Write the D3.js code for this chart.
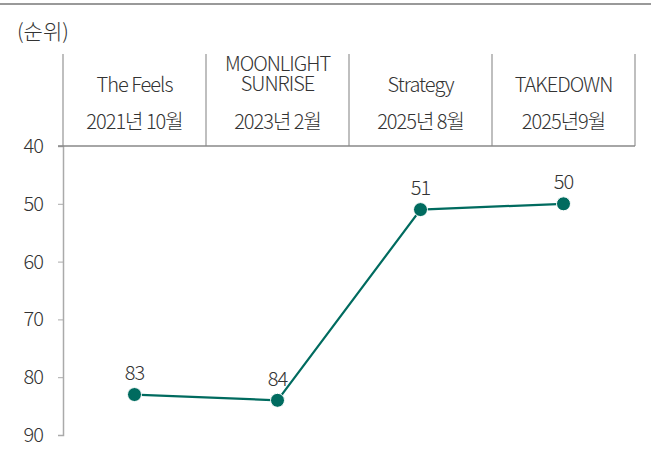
<!DOCTYPE html>
<html>
<head>
<meta charset="utf-8">
<script src="https://cdn.jsdelivr.net/npm/d3@7"></script>
<style>
  body { margin: 0; background: #fff; }
  svg text { font-family: "Noto Sans CJK KR", "Noto Sans", sans-serif; fill: #333; }
</style>
</head>
<body>
<svg id="chart"></svg>
<script>
const songs = [['The Feels'], ['MOONLIGHT', 'SUNRISE'], ['Strategy'], ['TAKEDOWN']];
const releaseDates = ['2021년 10월', '2023년 2월', '2025년 8월', '2025년9월'];
const ranks = [83, 84, 51, 50];
const yTicks = [40, 50, 60, 70, 80, 90];

const width = 651;
const height = 457;
const margin = { left: 63, right: 16, top: 146, bottom: 22 };
const innerWidth = width - margin.left - margin.right;
const innerHeight = height - margin.top - margin.bottom;
const headerTop = 54;
const lineColor = '#006b5f';
const FONT_SIZE = 20;

const svg = d3.select('#chart')
    .attr('width', width)
    .attr('height', height);

// top rule
svg.append('line')
    .attr('x1', 0).attr('x2', width)
    .attr('y1', 4).attr('y2', 4)
    .attr('stroke', '#999').attr('stroke-width', 2);

svg.append('text')
    .attr('x', 17).attr('y', 39)
    .attr('font-size', 21)
    .attr('font-weight', 300)
    .attr('letter-spacing', 0)
    .text('(순위)');

const g = svg.append('g')
    .attr('transform', `translate(${ margin.left },${ margin.top })`);

const x = d3.scaleBand()
    .domain(d3.range(ranks.length))
    .range([0, innerWidth]);

const y = d3.scaleLinear()
    .domain([40, 90])
    .range([0, innerHeight]);

// y axis
const yAxis = g.append('g')
    .call(d3.axisLeft(y).tickValues(yTicks).tickSize(5).tickPadding(15));
yAxis.select('.domain').attr('stroke', '#aaa').attr('stroke-width', 1.5);
yAxis.selectAll('.tick line').attr('stroke', '#aaa');
yAxis.selectAll('.tick text')
    .attr('font-size', FONT_SIZE)
    .attr('font-weight', 300)
    .attr('fill', '#333')
    .attr('letter-spacing', -1)
    .attr('font-family', '"Noto Sans CJK KR", "Noto Sans", sans-serif');

// header table
const header = g.append('g').attr('transform', `translate(0,${ headerTop - margin.top })`);
const headerH = margin.top - headerTop;

header.selectAll('line.sep')
    .data(d3.range(ranks.length + 1))
    .join('line')
    .attr('class', 'sep')
    .attr('x1', (d) => (d < ranks.length ? x(d) : innerWidth))
    .attr('x2', (d) => (d < ranks.length ? x(d) : innerWidth))
    .attr('y1', 0).attr('y2', headerH)
    .attr('stroke', '#aaa').attr('stroke-width', 1.5);

g.append('line')
    .attr('x1', -5).attr('x2', innerWidth)
    .attr('y1', 0).attr('y2', 0)
    .attr('stroke', '#888').attr('stroke-width', 1.5);

const cells = header.selectAll('g.cell')
    .data(songs)
    .join('g')
    .attr('class', 'cell')
    .attr('transform', (d, i) => `translate(${ x(i) + x.bandwidth() / 2 },0)`);

cells.each(function (lines)
{
    const cell = d3.select(this);
    const startY = lines.length > 1 ? 17.4 : 38.4;
    lines.forEach((t, k) =>
    {
        cell.append('text')
            .attr('x', 0)
            .attr('y', startY + k * 20)
            .attr('text-anchor', 'middle')
            .attr('font-size', FONT_SIZE)
            .attr('font-weight', 300)
            .attr('letter-spacing', -1)
            .text(t);
    });
});

cells.append('text')
    .attr('x', 0)
    .attr('y', 75.4)
    .attr('text-anchor', 'middle')
    .attr('font-size', FONT_SIZE)
    .attr('font-weight', 300)
    .attr('letter-spacing', -1)
    .text((d, i) => releaseDates[i]);

// series
const cx = (i) => x(i) + x.bandwidth() / 2;

g.append('path')
    .datum(ranks)
    .attr('fill', 'none')
    .attr('stroke', lineColor)
    .attr('stroke-width', 2.2)
    .attr('d', d3.line().x((d, i) => cx(i)).y((d) => y(d)));

g.selectAll('circle.pt')
    .data(ranks)
    .join('circle')
    .attr('class', 'pt')
    .attr('cx', (d, i) => cx(i))
    .attr('cy', (d) => y(d))
    .attr('r', 7)
    .attr('fill', lineColor)
    .attr('stroke', '#fff')
    .attr('stroke-width', 1);

g.selectAll('text.lbl')
    .data(ranks)
    .join('text')
    .attr('class', 'lbl')
    .attr('x', (d, i) => cx(i))
    .attr('y', (d) => y(d) - 14.6)
    .attr('text-anchor', 'middle')
    .attr('font-size', FONT_SIZE)
    .attr('font-weight', 300)
    .attr('letter-spacing', -1)
    .text((d) => d);
</script>
</body>
</html>
